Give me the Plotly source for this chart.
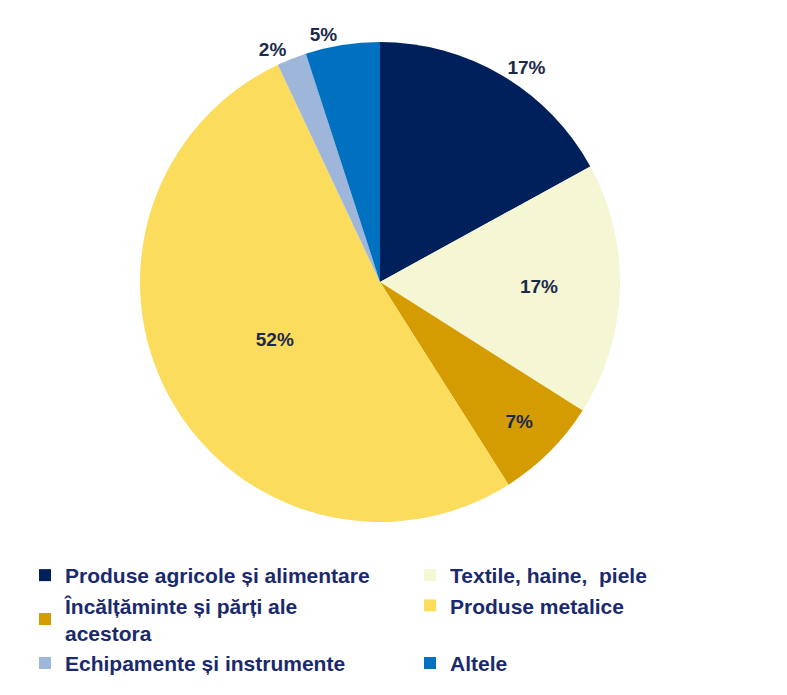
import plotly.graph_objects as go

categories = [
    "Produse agricole și alimentare",
    "Textile, haine,  piele",
    "Încălțăminte și părți ale<br>acestora",
    "Produse metalice",
    "Echipamente și instrumente",
    "Altele",
]
values = [17, 17, 7, 52, 2, 5]
colors = ["#00205b", "#f4f6d4", "#d49c00", "#fcdc5c", "#9db6da", "#0070c0"]
text_positions = ["outside", "inside", "inside", "inside", "outside", "outside"]
# labels split over two overlaid layers so the small top labels do not collide
layer_a = [True, True, True, True, True, False]

W, H = 787, 695
cx, cy, r = 372, 274, 240
domain = dict(x=[(cx - r) / W, (cx + r) / W], y=[(H - cy - r) / H, (H - cy + r) / H])
tfont = dict(family="Liberation Sans, Arial", size=19, color="#1c2a4a", weight="bold")

fig = go.Figure()
fig.add_trace(go.Pie(
    labels=categories,
    values=values,
    marker=dict(colors=colors, line=dict(width=0)),
    sort=False,
    direction="clockwise",
    rotation=0,
    texttemplate=["%{percent:.0%}" if a else "" for a in layer_a],
    textposition=text_positions,
    insidetextorientation="horizontal",
    textfont=tfont,
    hoverinfo="label+percent",
    domain=domain,
))
fig.add_trace(go.Pie(
    labels=categories,
    values=values,
    marker=dict(colors=["rgba(0,0,0,0)"] * len(values), line=dict(width=0)),
    sort=False,
    direction="clockwise",
    rotation=0,
    texttemplate=["" if a else "%{percent:.0%}" for a in layer_a],
    textposition=text_positions,
    textfont=tfont,
    hoverinfo="skip",
    showlegend=False,
    domain=domain,
))

fig.update_layout(
    width=W, height=H,
    margin=dict(l=0, r=0, t=0, b=0),
    paper_bgcolor="white",
    showlegend=True,
    legend=dict(
        orientation="h",
        x=0.03, xanchor="left",
        y=0.213, yanchor="top",
        entrywidth=340, entrywidthmode="pixels",
        font=dict(family="Liberation Sans, Arial", size=21, color="#1a2a6c", weight="bold"),
        traceorder="normal",
    ),
)

fig.write_html("out.html")
